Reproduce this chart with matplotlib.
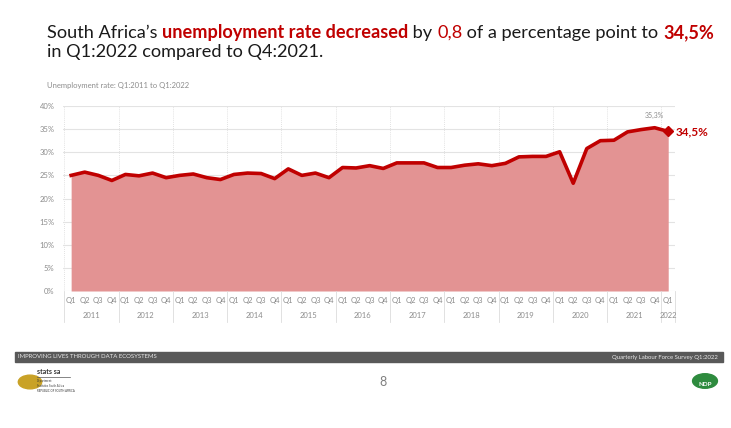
import matplotlib
matplotlib.use("Agg")
import matplotlib.pyplot as plt
from matplotlib.patches import Rectangle, Circle

plt.rcParams["font.family"] = ["Lato", "DejaVu Sans"]

# data: QLFS unemployment rate, Q1:2011 - Q1:2022
years = ["2011", "2012", "2013", "2014", "2015", "2016",
         "2017", "2018", "2019", "2020", "2021", "2022"]
quarters = ["Q1", "Q2", "Q3", "Q4"]
rate = [25.0, 25.7, 25.0, 23.9,
        25.2, 24.9, 25.5, 24.5,
        25.0, 25.3, 24.5, 24.1,
        25.2, 25.5, 25.4, 24.3,
        26.4, 25.0, 25.5, 24.5,
        26.7, 26.6, 27.1, 26.5,
        27.7, 27.7, 27.7, 26.7,
        26.7, 27.2, 27.5, 27.1,
        27.6, 29.0, 29.1, 29.1,
        30.1, 23.3, 30.8, 32.5,
        32.6, 34.4, 34.9, 35.3,
        34.5]
y_ticks = [0, 5, 10, 15, 20, 25, 30, 35, 40]

RED = "#c00000"
FILL = "#e39393"
GRID = "#e3e3e3"
GRAY = "#8c8c8c"

W, H = 731, 428
fig = plt.figure(figsize=(W / 100, H / 100), dpi=100)
fig.patch.set_facecolor("white")


def fx(px):
    return px / W


def fy(py):
    return 1 - py / H


# title with mixed colours, sized to span ~665 px like the slide
title_parts = [("South Africa\u2019s ", "#1a1a1a", "normal"),
               ("unemployment rate decreased", RED, "bold"),
               (" by ", "#1a1a1a", "normal"),
               ("0,8", RED, "normal"),
               (" of a percentage point to ", "#1a1a1a", "normal"),
               ("34,5%", RED, "bold")]


def rich_line(parts, x, y, size):
    r = fig.canvas.get_renderer()
    texts = []
    for txt, color, weight in parts:
        t = fig.text(x, y, txt, fontsize=size, color=color, weight=weight,
                     va="baseline", ha="left")
        x += t.get_window_extent(renderer=r).width / W
        texts.append(t)
    return texts, x


probe, end = rich_line(title_parts, 0, 2, 13)
for t in probe:
    t.remove()
tsize = min(14, 13 * 665 / (end * W))
rich_line(title_parts, fx(47), fy(38), tsize)
fig.text(fx(47), fy(57), "in Q1:2022 compared to Q4:2021.", fontsize=tsize,
         color="#1a1a1a", va="baseline")
fig.text(fx(47), fy(88), "Unemployment rate: Q1:2011 to Q1:2022", fontsize=5.5,
         color=GRAY, va="baseline")

# chart
ax = fig.add_axes([fx(63), fy(291), fx(675) - fx(63), fy(106) - fy(291)])
x = list(range(len(rate)))
ax.fill_between(x, rate, 0, color=FILL, lw=0, zorder=2)
ax.plot(x, rate, color=RED, lw=2.6, zorder=3, solid_joinstyle="round")
ax.plot(x[-1], rate[-1], marker="D", color=RED, ms=5, zorder=4)
ax.set_xlim(-0.6, len(rate) - 0.5)
ax.set_ylim(0, 40)
ax.set_yticks(y_ticks)
ax.set_yticklabels([f"{v}%" for v in y_ticks], fontsize=5.5, color=GRAY)
ax.tick_params(axis="y", length=0, pad=6)
ax.grid(axis="y", color=GRID, lw=0.8, zorder=1)
for k in range(len(years)):
    ax.axvline(4 * k - 0.5, color="#d8d8d8", lw=0.6, ls=(0, (1, 1.5)), zorder=1)
for s in ax.spines.values():
    s.set_visible(False)
ax.set_xticks(x)
ax.set_xticklabels([quarters[i % 4] for i in x], fontsize=5.5, color=GRAY)
ax.tick_params(axis="x", length=0, pad=4)

ax.annotate("34,5%", (x[-1], rate[-1]), xytext=(5, 0), textcoords="offset points",
            fontsize=8.5, weight="bold", color=RED, va="center", ha="left")
ax.annotate(f"{rate[-2]:.1f}%".replace(".", ","), (x[-2], rate[-2]),
            xytext=(0, 6), textcoords="offset points",
            fontsize=5, color=GRAY, ha="center", va="bottom")

# year row
tr = ax.get_xaxis_transform()
for k, yr in enumerate(years):
    start = 4 * k
    end = min(start + 4, len(rate))
    ax.text((start + end - 1) / 2, -0.13, yr, transform=tr, fontsize=5.5,
            color=GRAY, ha="center", va="center", clip_on=False)
    ax.plot([start - 0.5, start - 0.5], [0, -0.17], transform=tr, color="#dcdcdc",
            lw=0.6, clip_on=False)
ax.plot([len(rate) - 0.5] * 2, [0, -0.17], transform=tr, color="#dcdcdc",
        lw=0.6, clip_on=False)

# footer
fig.patches.append(Rectangle((fx(15), fy(362)), fx(723) - fx(15), fy(352) - fy(362),
                             transform=fig.transFigure, color="#595959", zorder=0))
fig.text(fx(18), fy(357), "IMPROVING LIVES THROUGH DATA ECOSYSTEMS", fontsize=4.3,
         color="#e8e8e8", va="center")
fig.text(fx(718), fy(357), "Quarterly Labour Force Survey Q1:2022", fontsize=4.3,
         color="#e8e8e8", va="center", ha="right")
fig.text(fx(383), fy(382), "8", fontsize=9, color="#7f7f7f", ha="center", va="center")

# logos (rough)
fig.patches.append(Circle((fx(30), fy(382)), 0.016, transform=fig.transFigure,
                          color="#c9a227", zorder=1))
fig.text(fx(37), fy(372), "stats sa", fontsize=5, color="#333333", weight="bold",
         va="center")
fig.add_artist(plt.Line2D([fx(37), fx(70)], [fy(377), fy(377)], color="#555555", lw=0.5))
fig.text(fx(37), fy(386), "Department:\nStatistics South Africa\nREPUBLIC OF SOUTH AFRICA",
         fontsize=2, color="#333333", va="center", linespacing=1.2)
fig.patches.append(Circle((fx(705), fy(381)), 0.017, transform=fig.transFigure,
                          color="#2e8b3e", zorder=1))
fig.text(fx(705), fy(385), "NDP", fontsize=4.5, color="white", weight="bold",
         ha="center", va="center")

fig.savefig("out.png", dpi=100, facecolor="white")
